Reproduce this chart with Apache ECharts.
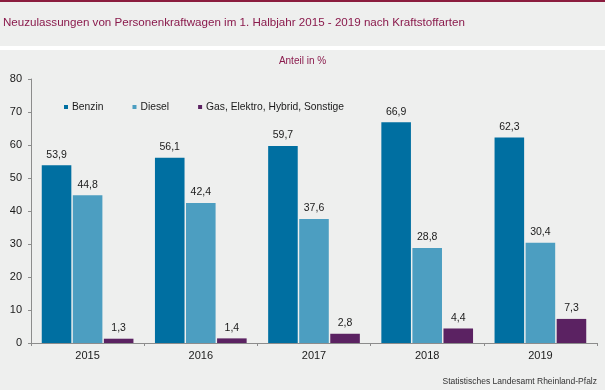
<!DOCTYPE html>
<html><head><meta charset="utf-8">
<script src="https://cdn.jsdelivr.net/npm/echarts@6/dist/echarts.min.js"></script>
<style>html,body{margin:0;padding:0;background:#eeefee}#c{width:605px;height:390px}</style>
</head><body><div id="c"></div>
<script>
const categories = ['2015','2016','2017','2018','2019'];
const seriesNames = ['Benzin','Diesel','Gas, Elektro, Hybrid, Sonstige'];
const benzin = [53.9, 56.1, 59.7, 66.9, 62.3];
const diesel = [44.8, 42.4, 37.6, 28.8, 30.4];
const gas = [1.3, 1.4, 2.8, 4.4, 7.3];
const colors = ['#006fa1', '#4c9ec1', '#5b2262'];
const FONT = '"Liberation Sans", Arial, sans-serif';

const chart = echarts.init(document.getElementById('c'), null, {renderer:'canvas'});
const fmt = p => String(p.value).replace('.', ',');
function mk(name, data, i){
  return {
    name, type:'bar', data,
    barGap:'5%', barCategoryGap:'19%',
    itemStyle:{color:colors[i]},
    label:{show:true, position:'top', distance:5, formatter:fmt,
      fontFamily:FONT, fontSize:10.5, color:'#1a1a1a'}
  };
}
chart.setOption({
  backgroundColor:'#eeefee',
  animation:false,
  color:colors,
  graphic:[
    {type:'rect', shape:{x:0,y:0,width:605,height:2}, style:{fill:'#8b1c3e'}, silent:true},
    {type:'rect', shape:{x:0,y:46,width:605,height:4}, style:{fill:'#ffffff'}, silent:true},
    {type:'text', left:3, top:17, style:{text:'Neuzulassungen von Personenkraftwagen im 1. Halbjahr 2015 - 2019 nach Kraftstoffarten', font:'11.6px '+FONT, fill:'#8a1a4c'}},
    {type:'text', left:'center', top:56, style:{text:'Anteil in %', font:'10px '+FONT, fill:'#8a1a4c'}},
    {type:'text', right:8, top:377, style:{text:'Statistisches Landesamt Rheinland-Pfalz', font:'8.5px '+FONT, fill:'#333333'}}
  ],
  legend:{
    left:59, top:97, itemWidth:4, itemHeight:4, itemGap:29,
    icon:'rect',
    textStyle:{fontFamily:FONT, fontSize:10.3, color:'#1a1a1a', padding:[0,0,0,-1]},
    data:seriesNames
  },
  grid:{left:31, right:8, top:79, bottom:47, containLabel:false},
  xAxis:{
    type:'category', data:categories,
    axisLine:{lineStyle:{color:'#8c8c8c', width:1}},
    axisTick:{show:true, length:3, lineStyle:{color:'#8c8c8c'}},
    axisLabel:{fontFamily:FONT, fontSize:11, color:'#1a1a1a', margin:7}
  },
  yAxis:{
    type:'value', min:0, max:80, interval:10,
    axisLine:{show:true, lineStyle:{color:'#8c8c8c', width:1}},
    axisTick:{show:true, length:3, lineStyle:{color:'#8c8c8c'}},
    splitLine:{show:false},
    axisLabel:{fontFamily:FONT, fontSize:11, color:'#1a1a1a', margin:9}
  },
  series:[mk(seriesNames[0], benzin, 0), mk(seriesNames[1], diesel, 1), mk(seriesNames[2], gas, 2)]
});
</script></body></html>
